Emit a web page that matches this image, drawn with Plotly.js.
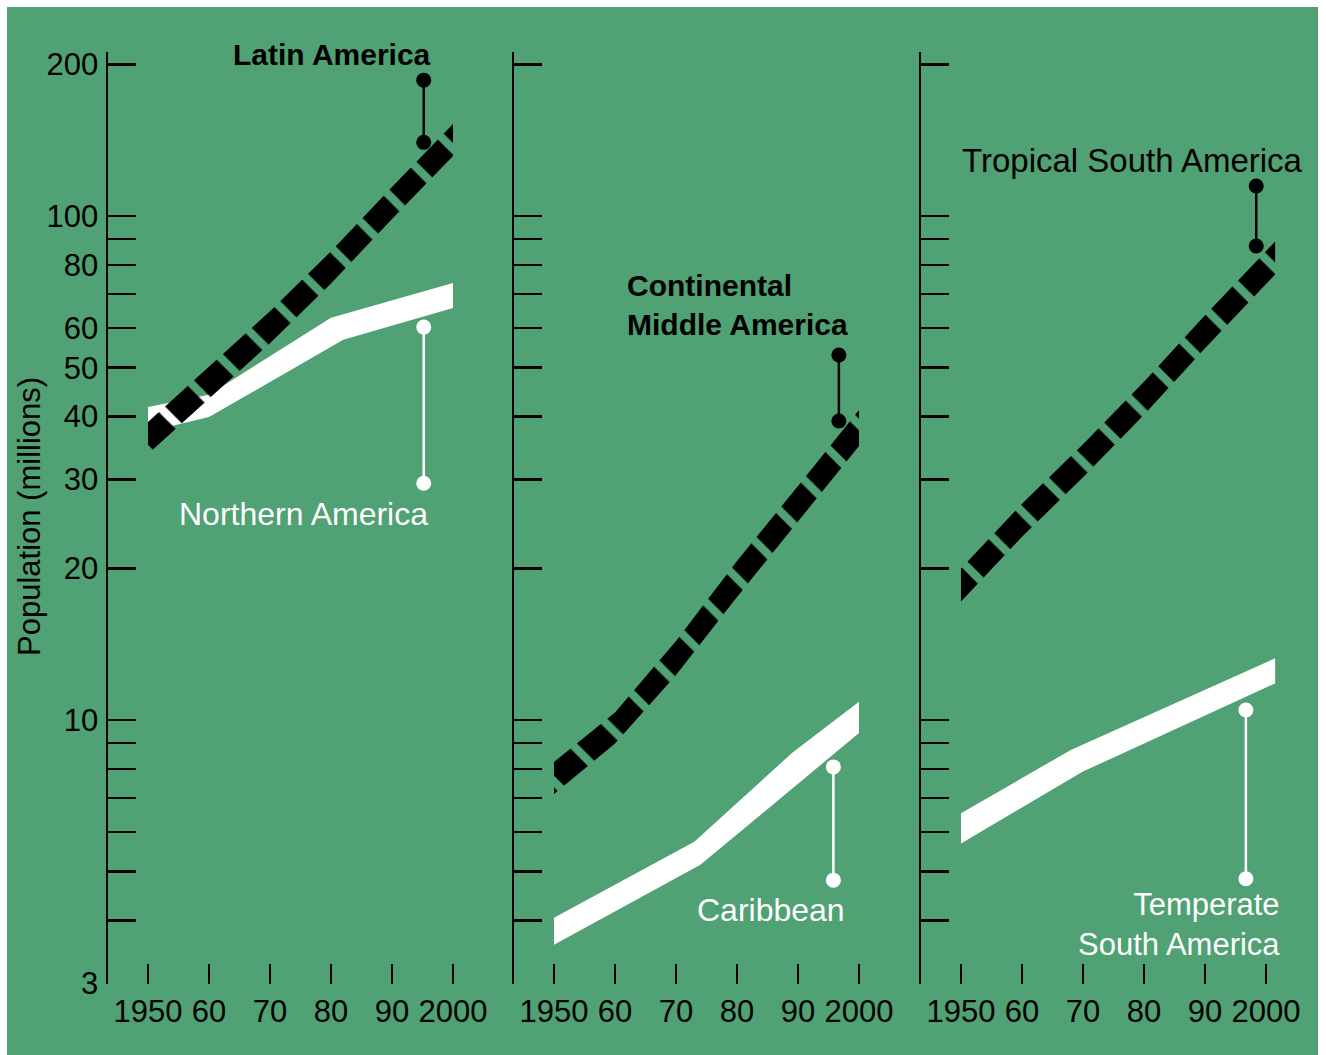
<!DOCTYPE html>
<html><head><meta charset="utf-8">
<script src="https://cdn.plot.ly/plotly-3.0.1.min.js"></script>
<style>html,body{margin:0;padding:0;background:#fff}#chart{width:1326px;height:1055px}</style>
</head><body><div id="chart"></div>
<script>
// ---------------- data ----------------
const yearTicks = [1950, 1960, 1970, 1980, 1990, 2000];
const yearTickText = ['1950', '60', '70', '80', '90', '2000'];
const popTicks = [3, 4, 5, 6, 7, 8, 9, 10, 20, 30, 40, 50, 60, 70, 80, 90, 100, 200];
const popTickText = ['3', '', '', '', '', '', '', '10', '20', '30', '40', '50', '60', '', '80', '', '100', '200'];
const popTicksNoLabel = [4, 5, 6, 7, 8, 9, 10, 20, 30, 40, 50, 60, 70, 80, 90, 100, 200];

// Panel 1
const latinYears = [1950, 1960, 1970, 1980, 1990, 2000];
const latinHigh = [39.0, 50.2, 64.7, 85.1, 114.2, 152.2];
const latinLow = [33.7, 43.4, 55.9, 73.5, 98.6, 131.5];
const northHighYears = [1950, 1960, 1980, 2000];
const northHigh = [41.8, 44.2, 62.8, 73.6];
const northLowYears = [1950, 1960, 1982, 2000];
const northLow = [37.3, 39.9, 56.8, 65.7];

// Panel 2
const midYears = [1950, 1960, 1970, 1980, 1990, 2000];
const midHigh = [8.25, 10.35, 14.35, 20.68, 29.13, 41.22];
const midLow = [7.13, 8.98, 12.28, 17.54, 24.71, 34.97];
const caribHighYears = [1950, 1973, 1989, 2000];
const caribHigh = [4.05, 5.73, 8.60, 10.87];
const caribLowYears = [1950, 1974, 2000];
const caribLow = [3.58, 5.16, 9.42];

// Panel 3
const tropYears = [1950, 1960, 1970, 1980, 1990, 2001.5];
const tropHigh = [19.98, 26.85, 35.26, 46.88, 63.53, 88.99];
const tropLow = [17.18, 23.09, 30.31, 40.33, 54.63, 76.55];
const tempHighYears = [1950, 1968, 2001.5];
const tempHigh = [6.53, 8.72, 13.26];
const tempLowYears = [1950, 1970, 2001.5];
const tempLow = [5.69, 7.90, 11.82];

// Range pointers (year, [upper, lower])
const latinPointerYear = 1995.2, latinPointer = [186, 140];
const northPointerYear = 1995.2, northPointer = [60.2, 29.5];
const midPointerYear = 1996.7, midPointer = [53.0, 39.2];
const caribPointerYear = 1995.8, caribPointer = [8.07, 4.81];
const tropPointerYear = 1998.4, tropPointer = [114.7, 87.2];
const tempPointerYear = 1996.7, tempPointer = [10.47, 4.84];

// ---------------- styling / layout ----------------
const W = 1326, H = 1055;
const GREEN = '#50a173';
const FONT = 'Liberation Sans, Arial, sans-serif';
const PX = p => p / W, PY = p => 1 - p / H;
const PPY = 6.1; // px per year
const xRange = [1950 - 40 / PPY, 1950 - 40 / PPY + 380 / PPY];
const yRange = [Math.log10(3), 2.3254];

function band(xa, ya, hiYears, hi, loYears, lo, dashed) {
  const t = {
    type: 'scatter', xaxis: xa, yaxis: ya,
    x: hiYears.concat(loYears.slice().reverse()),
    y: hi.concat(lo.slice().reverse()),
    mode: 'lines', fill: 'toself', line: { width: 0, color: dashed ? 'rgba(0,0,0,0)' : '#fff' },
    hoverinfo: 'skip', showlegend: false
  };
  if (dashed) {
    t.fillcolor = '#000';
    t.fillpattern = { shape: '\\', size: 39, solidity: 0.79, fgcolor: '#000', fgopacity: 1,
                      bgcolor: 'rgba(0,0,0,0)', fillmode: 'overlay' };
  } else {
    t.fillcolor = '#fff';
  }
  return t;
}
function pointer(xa, ya, yr, vals, color) {
  return {
    type: 'scatter', xaxis: xa, yaxis: ya, x: [yr, yr], y: vals,
    mode: 'lines+markers', line: { color: color, width: 2.5 },
    marker: { color: color, size: 15 }, hoverinfo: 'skip', showlegend: false, cliponaxis: false
  };
}

const data = [
  band('x', 'y', northHighYears, northHigh, northLowYears, northLow, false),
  band('x', 'y', latinYears, latinHigh, latinYears, latinLow, true),
  pointer('x', 'y', latinPointerYear, latinPointer, '#000'),
  pointer('x', 'y', northPointerYear, northPointer, '#fff'),

  band('x2', 'y2', caribHighYears, caribHigh, caribLowYears, caribLow, false),
  band('x2', 'y2', midYears, midHigh, midYears, midLow, true),
  pointer('x2', 'y2', midPointerYear, midPointer, '#000'),
  pointer('x2', 'y2', caribPointerYear, caribPointer, '#fff'),

  band('x3', 'y3', tempHighYears, tempHigh, tempLowYears, tempLow, false),
  band('x3', 'y3', tropYears, tropHigh, tropYears, tropLow, true),
  pointer('x3', 'y3', tropPointerYear, tropPointer, '#000'),
  pointer('x3', 'y3', tempPointerYear, tempPointer, '#fff')
];

function xAxis(x0, anchor) {
  return {
    domain: [PX(x0), PX(x0 + 380)], range: xRange, anchor: anchor,
    tickmode: 'array', tickvals: yearTicks, ticktext: yearTickText, tickangle: 0,
    ticks: 'inside', ticklen: 20, tickwidth: 2.5, tickcolor: '#000',
    ticklabelstandoff: 6,
    showline: false, showgrid: false, zeroline: false, fixedrange: true,
    tickfont: { family: FONT, size: 31, color: '#000' }
  };
}
function yAxis(anchor, vals, text, showLabels) {
  return {
    type: 'log', domain: [PY(983.5), PY(52)], range: yRange, anchor: anchor,
    tickmode: 'array', tickvals: vals, ticktext: text, showticklabels: showLabels,
    ticks: 'inside', ticklen: 28, tickwidth: 2.5, tickcolor: '#000',
    ticklabelstandoff: 1,
    showline: true, linecolor: '#000', linewidth: 2.5,
    showgrid: false, zeroline: false, fixedrange: true,
    tickfont: { family: FONT, size: 31, color: '#000' }
  };
}

function label(text, x, y, xanchor, size, color, bold, align) {
  return {
    xref: 'paper', yref: 'paper', x: PX(x), y: PY(y), xanchor: xanchor, yanchor: 'middle',
    text: bold ? '<b>' + text + '</b>' : text, showarrow: false, align: align || 'center',
    font: { family: FONT, size: size, color: color }
  };
}

const layout = {
  width: W, height: H,
  margin: { l: 0, r: 0, t: 0, b: 0, pad: 0 },
  paper_bgcolor: '#ffffff', plot_bgcolor: 'rgba(0,0,0,0)',
  font: { family: FONT, color: '#000' },
  showlegend: false,
  xaxis: xAxis(108, 'y'),
  yaxis: yAxis('x', popTicks, popTickText, true),
  xaxis2: xAxis(514, 'y2'),
  yaxis2: yAxis('x2', popTicksNoLabel, popTicksNoLabel.map(() => ''), false),
  xaxis3: xAxis(921, 'y3'),
  yaxis3: yAxis('x3', popTicksNoLabel, popTicksNoLabel.map(() => ''), false),
  shapes: [
    { type: 'rect', xref: 'paper', yref: 'paper', x0: PX(7), x1: PX(1318), y0: 0, y1: PY(7),
      fillcolor: GREEN, line: { width: 0 }, layer: 'below' }
  ],
  annotations: [
    label('Latin America', 332, 55, 'center', 30, '#000', true),
    label('Northern America', 303, 514, 'center', 32, '#fff', false),
    label('Continental<br>Middle America', 625, 305, 'left', 30, '#000', true, 'left'),
    label('Caribbean', 771, 910, 'center', 32, '#fff', false),
    label('Tropical South America', 1132, 160, 'center', 33, '#000', false),
    label('Temperate<br>South America', 1282, 924, 'right', 31, '#fff', false, 'right'),
    { xref: 'paper', yref: 'paper', x: PX(29), y: PY(517), xanchor: 'center', yanchor: 'middle',
      text: 'Population (millions)', textangle: -90, showarrow: false,
      font: { family: FONT, size: 31, color: '#000' } }
  ]
};

Plotly.newPlot('chart', data, layout, { staticPlot: true, displayModeBar: false });
</script>
</body></html>
